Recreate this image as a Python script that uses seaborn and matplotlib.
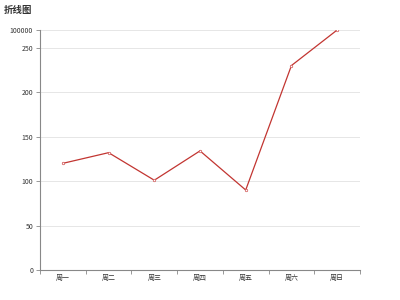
import matplotlib
matplotlib.use("Agg")
import matplotlib.pyplot as plt
import seaborn as sns
import pandas as pd
import numpy as np

days = ["周一", "周二", "周三", "周四", "周五", "周六", "周日"]
values = [120, 132, 101, 134, 90, 230, 270]
y_ticks = [0, 50, 100, 150, 200, 250, 270]
y_tick_labels = ["0", "50", "100", "150", "200", "250", "100000"]
title = "折线图"

sns.set_theme(style="white")
plt.rcParams['font.family'] = ['Noto Sans CJK SC', 'DejaVu Sans']

df = pd.DataFrame({"day": days, "value": values})

fig = plt.figure(figsize=(4, 3), dpi=100)
ax = fig.add_axes([40/400, 30/300, 320/400, 240/300])

sns.lineplot(data=df, x="day", y="value", sort=False, ax=ax, color="#c23531",
             linewidth=0.9, marker="o", markersize=1.8, markerfacecolor="white",
             markeredgecolor="#d05050", markeredgewidth=0.5)

ax.set_xlim(-0.5, len(days) - 0.5)
ax.set_ylim(0, 270)
ax.set_yticks(y_ticks)
ax.set_yticklabels(y_tick_labels)
ax.set_xticks(range(len(days)))
ax.set_xticklabels(days)
ax.set_xticks(np.arange(-0.5, len(days), 1.0), minor=True)
ax.tick_params(axis="x", which="major", length=0, labelsize=5, colors="#333333", pad=3)
ax.tick_params(axis="x", which="minor", length=3, width=0.6, color="#888888", bottom=True)
ax.tick_params(axis="y", which="major", length=3, width=0.6, color="#888888", labelsize=5,
               labelcolor="#333333", pad=2, left=True)
ax.set_xlabel("")
ax.set_ylabel("")

ax.grid(axis="y", color="#e2e2e2", linewidth=0.6)
ax.grid(axis="x", visible=False)
ax.set_axisbelow(True)
for s in ["top", "right"]:
    ax.spines[s].set_visible(False)
for s in ["left", "bottom"]:
    ax.spines[s].set_color("#888888")
    ax.spines[s].set_linewidth(0.8)

fig.text(4/400, 1 - 5/300, title, fontsize=6.8, fontweight="bold", color="#333333",
         ha="left", va="top")

fig.savefig("out.png", dpi=100)
